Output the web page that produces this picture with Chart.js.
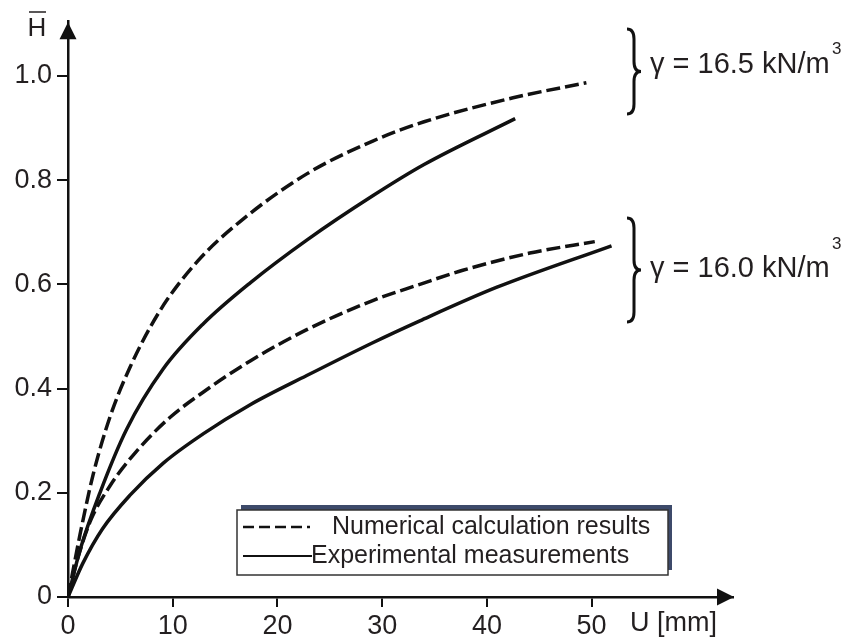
<!DOCTYPE html>
<html>
<head>
<meta charset="utf-8">
<title>H vs U</title>
<script src="https://cdn.jsdelivr.net/npm/chart.js@4.4.1/dist/chart.umd.min.js"></script>
<style>
html, body { margin: 0; padding: 0; background: #fff; }
#wrap { width: 845px; height: 641px; position: relative; }
</style>
</head>
<body>
<div id="wrap"><canvas id="chart"></canvas></div>
<script>
/* DATA */
const xTicks = [0, 10, 20, 30, 40, 50];
const xTickLabels = ["0", "10", "20", "30", "40", "50"];
const yTicks = [0, 0.2, 0.4, 0.6, 0.8, 1.0];
const yTickLabels = ["0", "0.2", "0.4", "0.6", "0.8", "1.0"];

// gamma = 16.5 kN/m3, numerical (dashed)
const num165U = [0, 1.15, 2.4, 4.0, 5.9, 8.8, 12.4, 16.4, 22.8, 29.1, 34.0, 42.5, 49.5];
const num165H = [0, 0.12, 0.235, 0.345, 0.44, 0.55, 0.645, 0.72, 0.812, 0.875, 0.912, 0.958, 0.987];
// gamma = 16.5 kN/m3, experimental (solid)
const exp165U = [0, 1.15, 3.05, 5.6, 9.1, 12.9, 17.4, 22.8, 29.1, 34.0, 42.7];
const exp165H = [0, 0.09, 0.2, 0.322, 0.438, 0.524, 0.603, 0.685, 0.77, 0.83, 0.918];
// gamma = 16.0 kN/m3, numerical (dashed)
const num160U = [0, 0.86, 2.1, 4.0, 6.6, 9.7, 12.9, 17.4, 22.8, 29.1, 33.6, 37.7, 44.1, 50.3];
const num160H = [0, 0.069, 0.144, 0.213, 0.281, 0.344, 0.393, 0.453, 0.513, 0.569, 0.60, 0.627, 0.660, 0.682];
// gamma = 16.0 kN/m3, experimental (solid)
const exp160U = [0, 1.4, 3.3, 5.9, 9.1, 12.9, 17.4, 22.8, 29.1, 33.6, 40.9, 51.9];
const exp160H = [0, 0.064, 0.131, 0.195, 0.257, 0.313, 0.369, 0.425, 0.488, 0.530, 0.594, 0.674];

const legendLabels = ["Numerical calculation results", "Experimental measurements"];
const groupLabels = ["\u03b3 = 16.5 kN/m", "\u03b3 = 16.0 kN/m"];

/* HELPERS */
const pts = (xs, ys) => xs.map((x, i) => ({ x: x, y: ys[i] }));
const FONT = "'Liberation Sans', Arial, sans-serif";
const INK = "#231f20";

function line(data, dashed) {
  return {
    data: data,
    borderColor: "#111",
    borderWidth: 3.5,
    borderDash: dashed ? [14, 5] : [],
    pointRadius: 0,
    fill: false,
    cubicInterpolationMode: "monotone"
  };
}

function brace(ctx, x, top, bot, w) {
  const mid = (top + bot) / 2;
  const r = 10;
  ctx.beginPath();
  ctx.moveTo(x, top);
  ctx.quadraticCurveTo(x + w / 2, top, x + w / 2, top + r);
  ctx.lineTo(x + w / 2, mid - r);
  ctx.quadraticCurveTo(x + w / 2, mid, x + w, mid);
  ctx.quadraticCurveTo(x + w / 2, mid, x + w / 2, mid + r);
  ctx.lineTo(x + w / 2, bot - r);
  ctx.quadraticCurveTo(x + w / 2, bot, x, bot);
  ctx.stroke();
}

/* EXTRAS: arrows, axis titles, legend box, braces */
const extras = {
  id: "extras",
  afterDraw(chart) {
    const ctx = chart.ctx;
    const a = chart.chartArea;
    const x0 = chart.scales.x.getPixelForValue(0);
    const y0 = chart.scales.y.getPixelForValue(0);
    ctx.save();

    // arrows
    ctx.fillStyle = "#111";
    ctx.beginPath();
    ctx.moveTo(x0, a.top + 1);
    ctx.lineTo(x0 - 8.5, a.top + 18);
    ctx.lineTo(x0 + 8.5, a.top + 18);
    ctx.closePath();
    ctx.fill();
    ctx.beginPath();
    ctx.moveTo(a.right + 1, y0);
    ctx.lineTo(a.right - 16, y0 - 8.5);
    ctx.lineTo(a.right - 16, y0 + 8.5);
    ctx.closePath();
    ctx.fill();

    // axis titles
    ctx.fillStyle = INK;
    ctx.font = "26px " + FONT;
    ctx.textAlign = "center";
    ctx.textBaseline = "middle";
    ctx.fillText("H", 37, 29);
    ctx.strokeStyle = INK;
    ctx.lineWidth = 1.5;
    ctx.beginPath();
    ctx.moveTo(29, 12);
    ctx.lineTo(46, 12);
    ctx.stroke();
    ctx.font = "27px " + FONT;
    ctx.textAlign = "left";
    ctx.fillText("U [mm]", 630, 624);

    // legend box with shadow
    ctx.fillStyle = "#3d4a6a";
    ctx.fillRect(241, 505, 431, 65);
    ctx.fillStyle = "#fff";
    ctx.fillRect(237, 510, 431, 65);
    ctx.strokeStyle = "#333";
    ctx.lineWidth = 1.5;
    ctx.strokeRect(237, 510, 431, 65);

    ctx.strokeStyle = "#111";
    ctx.lineWidth = 2.5;
    ctx.setLineDash([11, 5]);
    ctx.beginPath();
    ctx.moveTo(243, 527);
    ctx.lineTo(310, 527);
    ctx.stroke();
    ctx.setLineDash([]);
    ctx.lineWidth = 2;
    ctx.beginPath();
    ctx.moveTo(243, 556);
    ctx.lineTo(312, 556);
    ctx.stroke();

    ctx.fillStyle = INK;
    ctx.font = "25px " + FONT;
    ctx.textBaseline = "middle";
    ctx.fillText(legendLabels[0], 332, 527);
    ctx.fillText(legendLabels[1], 311, 556);

    // braces and group labels
    ctx.strokeStyle = "#111";
    ctx.lineWidth = 3;
    brace(ctx, 627, 29, 114, 14);
    brace(ctx, 627, 218, 322, 14);

    ctx.font = "29px " + FONT;
    ctx.fillText(groupLabels[0], 650, 65);
    ctx.fillText(groupLabels[1], 650, 269);
    ctx.font = "17px " + FONT;
    ctx.fillText("3", 832, 49);
    ctx.fillText("3", 832, 244);

    ctx.restore();
  }
};

new Chart(document.getElementById("chart"), {
  type: "line",
  data: {
    datasets: [
      line(pts(num165U, num165H), true),
      line(pts(exp165U, exp165H), false),
      line(pts(num160U, num160H), true),
      line(pts(exp160U, exp160H), false)
    ]
  },
  options: {
    responsive: true,
    maintainAspectRatio: false,
    animation: false,
    layout: { padding: { left: 0, right: 112, top: 7, bottom: 0 } },
    plugins: { legend: { display: false }, tooltip: { enabled: false } },
    scales: {
      x: {
        type: "linear",
        min: 0,
        max: 63.5,
        afterBuildTicks: s => { s.ticks = xTicks.map(v => ({ value: v })); },
        afterFit: s => { s.height = 44; },
        ticks: {
          callback: (v, i) => xTickLabels[i],
          color: INK,
          font: { family: FONT, size: 27 },
          padding: 3,
          maxRotation: 0,
          autoSkip: false
        },
        grid: { drawOnChartArea: false, drawTicks: true, tickLength: 10, color: "#111", lineWidth: 2 },
        border: { display: true, color: "#111", width: 2.5 }
      },
      y: {
        min: 0,
        max: 1.105,
        afterBuildTicks: s => { s.ticks = yTicks.map(v => ({ value: v })); },
        afterFit: s => { s.width = 68; },
        ticks: {
          callback: (v, i) => yTickLabels[i],
          color: INK,
          font: { family: FONT, size: 27 },
          padding: 5,
          autoSkip: false
        },
        grid: { drawOnChartArea: false, drawTicks: true, tickLength: 11, color: "#111", lineWidth: 2 },
        border: { display: true, color: "#111", width: 2.5 }
      }
    }
  },
  plugins: [extras]
});
</script>
</body>
</html>
